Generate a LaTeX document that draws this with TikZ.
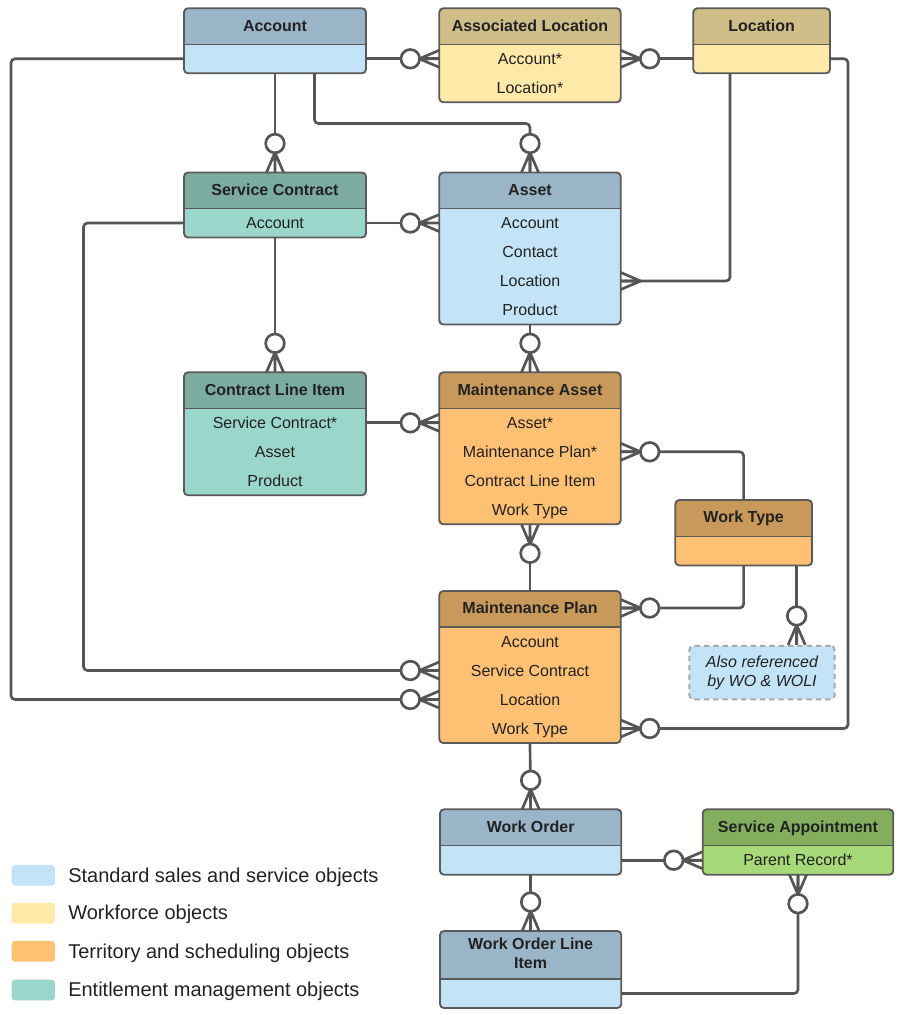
\documentclass[tikz,border=0pt]{standalone}
\usepackage{fontspec}
\setmainfont{Liberation Sans}
\usetikzlibrary{calc}
\definecolor{stdH}{HTML}{9BB5C8}
\definecolor{stdB}{HTML}{C3E4F7}
\definecolor{wfH}{HTML}{CFBE88}
\definecolor{wfB}{HTML}{FEE9A8}
\definecolor{tsH}{HTML}{C9995C}
\definecolor{tsB}{HTML}{FEC173}
\definecolor{emH}{HTML}{7BABA1}
\definecolor{emB}{HTML}{9BD6CA}
\definecolor{saH}{HTML}{82AE5E}
\definecolor{saB}{HTML}{A6D977}
\definecolor{borderC}{HTML}{5A5A5A}
\definecolor{lineC}{HTML}{555555}
\definecolor{txtC}{HTML}{222222}
\definecolor{dashC}{HTML}{A8A8A8}

% #1 name, #2 x, #3 y, #4 w, #5 header h, #6 rows, #7 colour prefix, #8 title, #9 row texts
\newcommand\entitybox[9]{%
  \pgfmathsetmacro\eh{#5+#6*29}%
  \begin{scope}
    \clip[rounded corners=3pt] (#2,#3) rectangle ++(#4,\eh);
    \fill[#7B] (#2,#3) rectangle ++(#4,\eh);
    \fill[#7H] (#2,#3) rectangle ++(#4,#5);
  \end{scope}
  \draw[sepline] (#2,#3+#5) -- ++(#4,0);
  \node[ebox, minimum width=#4*0.75pt, minimum height=\eh*0.75pt, anchor=north west] (#1) at (#2,#3) {};
  \node[etitle] (#1-t) at (#2+#4/2, #3+#5/2-1) {#8};
  \foreach \t [count=\i] in {#9} {
    \node[erow] (#1-\i) at (#2+#4/2, #3+#5+14.5+\i*29-29) {\t};
  }
}

\begin{document}
\begin{tikzpicture}[x=0.75pt,y=-0.75pt,
  ebox/.style={draw=borderC, line width=1.4pt, rounded corners=3pt, inner sep=0pt, outer sep=0pt},
  sepline/.style={draw=borderC, line width=1.1pt},
  etitle/.style={font=\fontsize{12}{14}\selectfont\bfseries, text=txtC, inner sep=0pt, text height=9.5pt, text depth=0.9pt},
  erow/.style={font=\fontsize{12}{14}\selectfont, text=txtC, inner sep=0pt, text height=9.5pt, text depth=0.9pt},
  conn/.style={draw=lineC, line width=2pt, rounded corners=3pt},
  pconn/.style={draw=lineC, line width=2pt},
  zmany/.pic={
    \draw[pconn] (15pt,0) -- (0,6.4pt) (15pt,0) -- (0,0) (15pt,0) -- (0,-6.4pt);
    \draw[pconn, fill=white] (21.75pt,0) circle[radius=7pt];
  },
  many/.pic={
    \draw[pconn] (15pt,0) -- (0,6.4pt) (15pt,0) -- (0,0) (15pt,0) -- (0,-6.4pt);
  },
  notebox/.style={draw=dashC, line width=1.5pt, dash pattern=on 4pt off 3pt, fill=stdB, rounded corners=3pt,
    minimum width=109pt, minimum height=40pt, align=center, inner sep=0pt,
    font=\fontsize{12}{14.25}\selectfont\itshape, text=txtC},
  swatch/.style={fill=#1, rounded corners=2.5pt, minimum width=32.5pt, minimum height=15.5pt, inner sep=0pt},
  legtext/.style={anchor=west, inner sep=0pt, font=\fontsize{15}{18}\selectfont, text=txtC, text height=11pt, text depth=0.9pt}
]
\useasboundingbox (0,0) rectangle (900,1015);

% ---------------- entities ----------------
\entitybox{acc}{184}{8.3}{182}{36}{1}{std}{Account}{\phantom{A}}
\entitybox{al}{439.3}{8.3}{181.4}{36}{2}{wf}{Associated Location}{Account*,Location*}
\entitybox{loc}{693.3}{8.3}{136.7}{36}{1}{wf}{Location}{\phantom{A}}
\entitybox{sc}{184}{172.5}{182}{36}{1}{em}{Service Contract}{Account}
\entitybox{ast}{439.3}{172.5}{181.4}{36}{4}{std}{Asset}{Account,Contact,Location,Product}
\entitybox{cli}{184}{372.3}{182}{36}{3}{em}{Contract Line Item}{Service Contract*,Asset,Product}
\entitybox{ma}{439.3}{372.3}{181.4}{36}{4}{ts}{Maintenance Asset}{Asset*,Maintenance Plan*,Contract Line Item,Work Type}
\entitybox{wt}{675.3}{500}{136.7}{36.5}{1}{ts}{Work Type}{\phantom{A}}
\entitybox{mp}{439.3}{591}{181.4}{36}{4}{ts}{Maintenance Plan}{Account,Service Contract,Location,Work Type}
\entitybox{wo}{440}{809.3}{181.3}{36.4}{1}{std}{Work Order}{\phantom{A}}
\entitybox{sa}{702.7}{809.3}{190.6}{36.4}{1}{sa}{Service Appointment}{Parent Record*}
\entitybox{woli}{440}{931}{181.3}{48}{1}{std}{}{\phantom{A}}
\node[etitle] (woli-t1) at (530.6,943.5) {Work Order Line};
\node[etitle] (woli-t2) at (530.6,962.7) {Item};

\node[notebox] (note) at (762,672.6) {Also referenced\\by WO \& WOLI};

% ---------------- connectors ----------------
\draw[conn] (acc-1 -| acc.east) -- (acc-1 -| al.west);
\draw[conn] (loc-1 -| loc.west) -- (loc-1 -| al.east);
\draw[conn] (acc.south) -- (sc.north);
\draw[conn] ([xshift=29.6pt]acc.south) |- ([yshift=36.75pt]ast.north) -- (ast.north);
\draw[conn] (acc-1 -| acc.west) -- ++(-173,0) |- (mp-3 -| mp.west);
\draw[conn] (loc-1 -| loc.east) -- ++(18,0) |- (mp-4 -| mp.east);
\draw[conn] ([xshift=-23.7pt]loc.south) |- (ast-3 -| ast.east);
\draw[conn] (sc-1 -| sc.east) -- (sc-1 -| ast.west);
\draw[conn] (sc.south) -- (cli.north);
\draw[conn] (sc-1 -| sc.west) -- ++(-100.5,0) |- (mp-2 -| mp.west);
\draw[conn] (cli-1 -| cli.east) -- (cli-1 -| ma.west);
\draw[conn] (ast.south) -- (ma.north);
\draw[conn] (ma.south) -- (mp.north);
\draw[conn] (wt.north) |- (ma-2 -| ma.east);
\draw[conn] (wt.south) |- (mp-t -| mp.east);
\coordinate (wtn) at ([xshift=-11.5pt]wt.south east);
\draw[conn] (wtn) -- (wtn |- note.north);
\draw[conn] (mp.south) -- (wo.north);
\draw[conn] (sa-1 -| wo.east) -- (sa-1 -| sa.west);
\draw[conn] (wo.south) -- (woli.north);
\draw[conn] (woli-1 -| woli.east) -| (sa.south);

% ---------------- cardinality ends ----------------
\pic[rotate=180] at (acc-1 -| al.west) {zmany};
\pic at (loc-1 -| al.east) {zmany};
\pic[rotate=90] at (sc.north) {zmany};
\pic[rotate=90] at (ast.north) {zmany};
\pic[rotate=180] at (mp-3 -| mp.west) {zmany};
\pic at (mp-4 -| mp.east) {zmany};
\pic at (ast-3 -| ast.east) {many};
\pic[rotate=180] at (sc-1 -| ast.west) {zmany};
\pic[rotate=90] at (cli.north) {zmany};
\pic[rotate=180] at (mp-2 -| mp.west) {zmany};
\pic[rotate=180] at (cli-1 -| ma.west) {zmany};
\pic[rotate=90] at (ma.north) {zmany};
\pic[rotate=-90] at (ma.south) {zmany};
\pic at (ma-2 -| ma.east) {zmany};
\pic at (mp-t -| mp.east) {zmany};
\pic[rotate=90] at (wtn |- note.north) {zmany};
\pic[rotate=90] at (wo.north) {zmany};
\pic[rotate=180] at (sa-1 -| sa.west) {zmany};
\pic[rotate=90] at (woli.north) {zmany};
\pic[rotate=-90] at (sa.south) {zmany};

% ---------------- legend ----------------
\node[swatch=stdB] (sw1) at (33.3,875.3) {};
\node[legtext] (lg1) at (68,875.3) {Standard sales and service objects};
\node[swatch=wfB] (sw2) at (33.3,913.2) {};
\node[legtext] (lg2) at (68,913.2) {Workforce objects};
\node[swatch=tsB] (sw3) at (33.3,951.3) {};
\node[legtext] (lg3) at (68,951.3) {Territory and scheduling objects};
\node[swatch=emB] (sw4) at (33.3,990) {};
\node[legtext] (lg4) at (68,990) {Entitlement management objects};
\end{tikzpicture}
\end{document}
